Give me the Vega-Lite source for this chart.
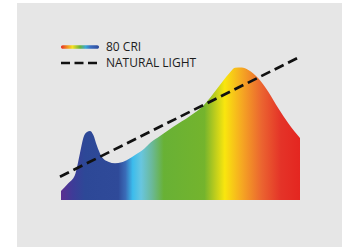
{
  "$schema": "https://vega.github.io/schema/vega-lite/v6.json",
  "width": 325,
  "height": 244,
  "autosize": {"type": "none"},
  "padding": {"left": 17, "right": 4, "top": 3, "bottom": 0},
  "background": "#ffffff",
  "config": {"view": {"fill": "#e6e6e6", "stroke": null}},
  "datasets": {
    "cri": [
      {"wavelength": 380, "intensity": 6.8},
      {"wavelength": 392.2, "intensity": 12.6},
      {"wavelength": 403.4, "intensity": 18.8},
      {"wavelength": 411.8, "intensity": 35.3},
      {"wavelength": 417.3, "intensity": 46.6},
      {"wavelength": 423.5, "intensity": 51.1},
      {"wavelength": 428.5, "intensity": 51.9},
      {"wavelength": 434.1, "intensity": 48.9},
      {"wavelength": 439.7, "intensity": 41.4},
      {"wavelength": 448.1, "intensity": 32.6},
      {"wavelength": 459.2, "intensity": 28.8},
      {"wavelength": 470.4, "intensity": 27.6},
      {"wavelength": 481.6, "intensity": 28.3},
      {"wavelength": 492.6, "intensity": 30.6},
      {"wavelength": 503.9, "intensity": 33.8},
      {"wavelength": 517.2, "intensity": 37.8},
      {"wavelength": 529.0, "intensity": 42.9},
      {"wavelength": 545.7, "intensity": 48.1},
      {"wavelength": 567.4, "intensity": 54.9},
      {"wavelength": 595.9, "intensity": 63.2},
      {"wavelength": 617.7, "intensity": 70.7},
      {"wavelength": 634.4, "intensity": 79.7},
      {"wavelength": 651.1, "intensity": 89.5},
      {"wavelength": 662.8, "intensity": 95.9},
      {"wavelength": 671.2, "intensity": 99.5},
      {"wavelength": 682.4, "intensity": 99.6},
      {"wavelength": 693.5, "intensity": 97.7},
      {"wavelength": 710.2, "intensity": 91.5},
      {"wavelength": 726.9, "intensity": 81.4},
      {"wavelength": 743.7, "intensity": 68.9},
      {"wavelength": 760.4, "intensity": 57.7},
      {"wavelength": 780, "intensity": 46.6}
    ],
    "natural": [
      {"series": "NATURAL LIGHT", "wavelength": 378.3, "intensity": 17.5},
      {"series": "NATURAL LIGHT", "wavelength": 780, "intensity": 107.7}
    ]
  },
  "layer": [
    {
      "data": {"name": "cri"},
      "mark": {
        "type": "area",
        "interpolate": "monotone",
        "color": {
          "gradient": "linear",
          "x1": 0, "y1": 0, "x2": 1, "y2": 0,
          "stops": [
            {"offset": 0, "color": "#5c2e91"},
            {"offset": 0.05, "color": "#3d3c98"},
            {"offset": 0.1, "color": "#2d4897"},
            {"offset": 0.24, "color": "#2f4a99"},
            {"offset": 0.27, "color": "#3a6cb8"},
            {"offset": 0.3, "color": "#3cbcec"},
            {"offset": 0.335, "color": "#68c6e0"},
            {"offset": 0.38, "color": "#6bb99a"},
            {"offset": 0.43, "color": "#68b135"},
            {"offset": 0.6, "color": "#74b42d"},
            {"offset": 0.64, "color": "#b5ca1f"},
            {"offset": 0.685, "color": "#f9e60e"},
            {"offset": 0.76, "color": "#f5a523"},
            {"offset": 0.84, "color": "#eb6430"},
            {"offset": 0.92, "color": "#e43328"},
            {"offset": 1, "color": "#e42620"}
          ]
        }
      },
      "encoding": {
        "x": {"field": "wavelength", "type": "quantitative", "scale": {"domain": [306.36, 850.29], "nice": false, "zero": false}, "axis": null},
        "y": {"field": "intensity", "type": "quantitative", "scale": {"domain": [-35.34, 148.12], "nice": false, "zero": false}, "axis": null},
        "y2": {"datum": 0}
      }
    },
    {
      "data": {"name": "natural"},
      "mark": {"type": "line", "strokeDash": [10, 5], "strokeWidth": 2.7, "strokeCap": "butt"},
      "encoding": {
        "x": {"field": "wavelength", "type": "quantitative"},
        "y": {"field": "intensity", "type": "quantitative"},
        "color": {
          "field": "series",
          "type": "nominal",
          "scale": {"domain": ["80 CRI", "NATURAL LIGHT"], "range": ["#2e4898", "#111111"]},
          "legend": {
            "orient": "none",
            "legendX": 57,
            "legendY": 38,
            "title": null,
            "padding": 0,
            "labelFont": "Open Sans",
            "labelFontSize": 12,
            "labelColor": "#1c1c1c",
            "labelOffset": 20,
            "symbolSize": 16,
            "rowPadding": 4,
            "encode": {
              "symbols": {
                "update": {
                  "shape": {"signal": "datum.value === '80 CRI' ? 'M-8.6,-0.9L8.6,-0.9A0.9,0.9 0 0 1 8.6,0.9L-8.6,0.9A0.9,0.9 0 0 1 -8.6,-0.9Z' : 'M-9.5,0L9.5,0'"},
                  "fill": {"signal": "datum.value === '80 CRI' ? {gradient: 'linear', x1: 0, y1: 0, x2: 1, y2: 0, stops: [{offset: 0, color: '#e52a24'}, {offset: 0.15, color: '#f08a20'}, {offset: 0.3, color: '#f5e020'}, {offset: 0.5, color: '#6ab43a'}, {offset: 0.65, color: '#3aa8d8'}, {offset: 0.78, color: '#3a6cc0'}, {offset: 1, color: '#2e4a9a'}]} : 'transparent'"},
                  "strokeWidth": {"signal": "datum.value === '80 CRI' ? 0 : 2.7"},
                  "strokeDash": {"value": [9, 4.5]},
                  "opacity": {"value": 1}
                }
              }
            }
          }
        }
      }
    }
  ]
}
